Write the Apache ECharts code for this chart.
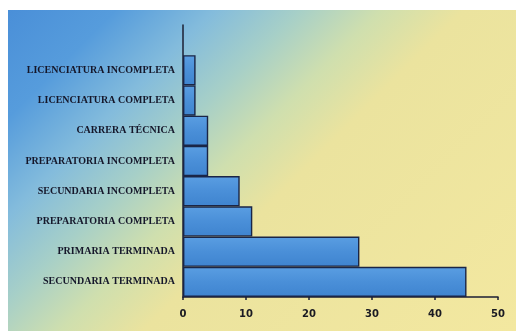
<!DOCTYPE html>
<html>
<head>
<meta charset="utf-8">
<script src="https://cdn.jsdelivr.net/npm/echarts@6/dist/echarts.min.js"></script>
<style>
  html, body { margin: 0; padding: 0; background: #ffffff; }
  #wrap { position: relative; width: 516px; height: 331px; overflow: hidden; }
  #panel {
    position: absolute; left: 8px; top: 10px; width: 508px; height: 321px;
    background: linear-gradient(135deg, #4a8fd8 0%, #569cdc 13%, #84bcdc 25%, #a6cfc8 35%, #cfdfae 45%, #ebe39e 55%, #f3e8a0 100%);
  }
  #chart { position: absolute; left: 0; top: 0; width: 516px; height: 331px; }
</style>
</head>
<body>
<div id="wrap">
  <div id="panel"></div>
  <div id="chart"></div>
</div>
<script>
// Education level categories, listed bottom to top; the last slot is left empty above the bars
const categories = [
  'SECUNDARIA TERMINADA',
  'PRIMARIA TERMINADA',
  'PREPARATORIA COMPLETA',
  'SECUNDARIA INCOMPLETA',
  'PREPARATORIA INCOMPLETA',
  'CARRERA TÉCNICA',
  'LICENCIATURA COMPLETA',
  'LICENCIATURA INCOMPLETA',
  ''
];
const values = [45, 28, 11, 9, 4, 4, 2, 2, null];
const xTicks = { min: 0, max: 50, interval: 10 };

const chart = echarts.init(document.getElementById('chart'), null, { renderer: 'canvas' });
chart.setOption({
  animation: false,
  backgroundColor: 'transparent',
  grid: { left: 183, right: 18, top: 25, bottom: 34, containLabel: false },
  xAxis: {
    type: 'value',
    min: xTicks.min,
    max: xTicks.max,
    interval: xTicks.interval,
    splitLine: { show: false },
    axisLine: { show: true, lineStyle: { color: '#1c1f33', width: 1.5 } },
    axisTick: { show: true, length: 3, lineStyle: { color: '#1c1f33', width: 1.5 } },
    axisLabel: {
      margin: 12,
      color: '#1a1a22',
      fontFamily: 'DejaVu Sans',
      fontWeight: 'bold',
      fontSize: 10
    }
  },
  yAxis: {
    type: 'category',
    data: categories,
    axisLine: { show: true, lineStyle: { color: '#1c1f33', width: 1.5 } },
    axisTick: { show: false },
    splitLine: { show: false },
    axisLabel: {
      margin: 8,
      color: '#15172a',
      fontFamily: 'Liberation Serif',
      fontWeight: 'bold',
      fontSize: 10
    }
  },
  series: [{
    type: 'bar',
    data: values,
    barCategoryGap: '0%',
    itemStyle: {
      color: new echarts.graphic.LinearGradient(0, 0, 0, 1, [
        { offset: 0, color: '#5a9ee2' },
        { offset: 0.5, color: '#4a8fd8' },
        { offset: 1, color: '#3f84cf' }
      ]),
      borderColor: '#1a2546',
      borderWidth: 1.4
    }
  }]
});
</script>
</body>
</html>
